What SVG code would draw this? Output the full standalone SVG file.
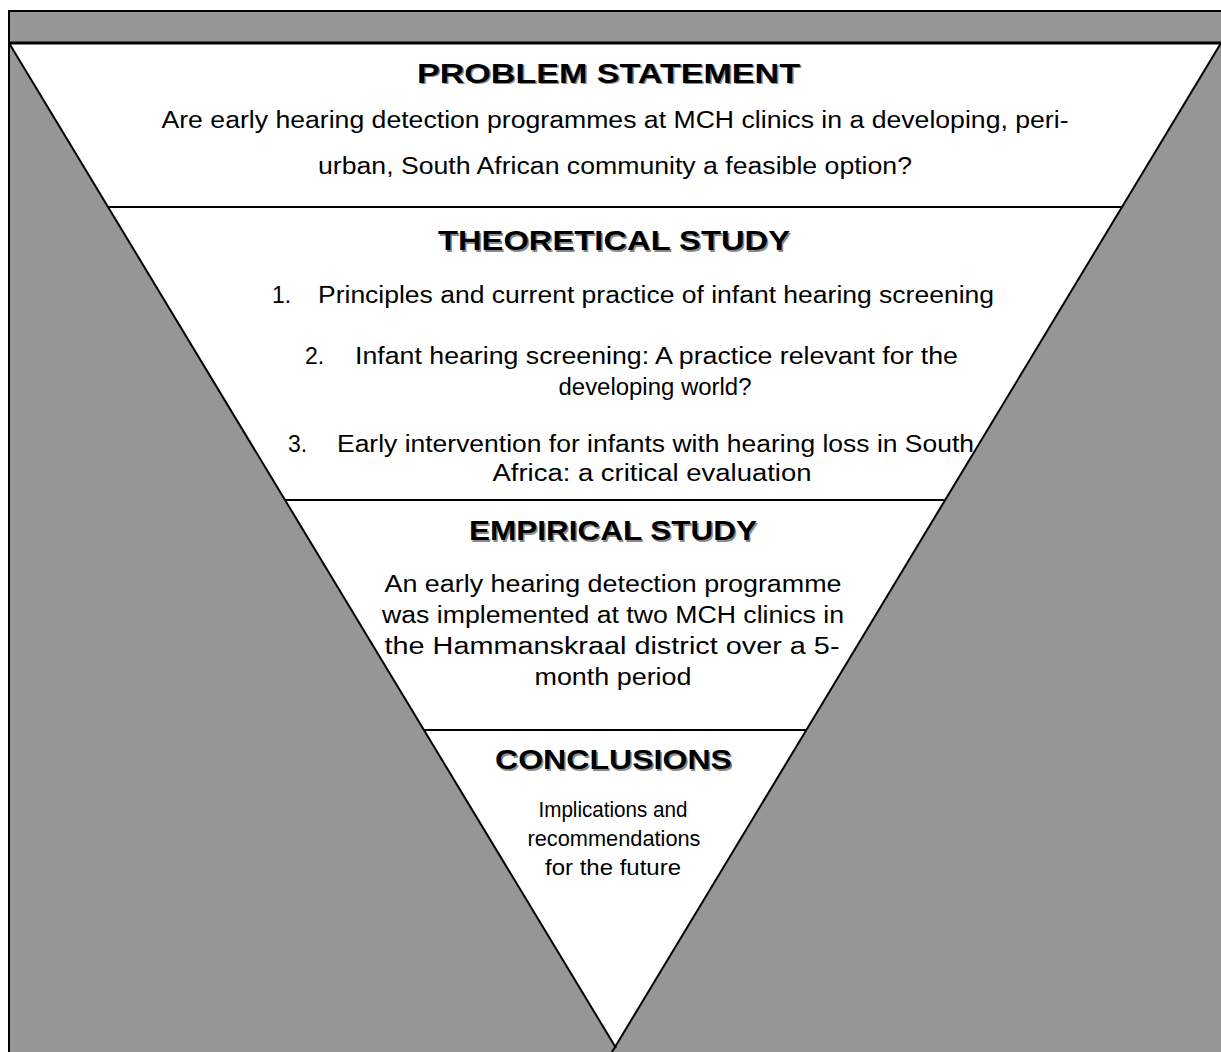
<svg xmlns="http://www.w3.org/2000/svg" width="1221" height="1052" viewBox="0 0 1221 1052">
<defs>
<style>
.bg{fill:#969696;stroke:#000;stroke-width:2}
.edge{fill:none;stroke:#000;stroke-width:2}
.t{font-family:"Liberation Sans",Arial,sans-serif;font-weight:bold;font-size:28px;fill:#000;text-anchor:middle}
.ts{font-family:"Liberation Sans",Arial,sans-serif;font-weight:bold;font-size:28px;fill:#8a8a8a;text-anchor:middle}
.b{font-family:"Liberation Sans",Arial,sans-serif;font-size:23px;fill:#000}
.s{font-family:"Liberation Sans",Arial,sans-serif;font-size:22px;fill:#000}
.c{text-anchor:middle}
</style>
</defs>
<rect x="9" y="11" width="1220" height="1050" class="bg"/>
<polygon points="9,43 1221,43 615,1047" fill="#fff"/>
<g id="connectors">
<line x1="9" y1="43" x2="1221" y2="43" stroke="#000" stroke-width="3"/>
<line x1="9" y1="43" x2="616" y2="1048" class="edge"/>
<line x1="1221" y1="43" x2="612" y2="1052" class="edge"/>
<line x1="108" y1="207" x2="1122" y2="207" class="edge"/>
<line x1="285" y1="500" x2="945" y2="500" class="edge"/>
<line x1="424" y1="730" x2="806" y2="730" class="edge"/>
</g>
<g id="problem">
<text x="610" y="84" class="ts" textLength="383" lengthAdjust="spacingAndGlyphs">PROBLEM STATEMENT</text>
<text x="608.5" y="82.5" class="t" textLength="383" lengthAdjust="spacingAndGlyphs">PROBLEM STATEMENT</text>
<text x="615" y="128" class="b c" textLength="907" lengthAdjust="spacingAndGlyphs">Are early hearing detection programmes at MCH clinics in a developing, peri-</text>
<text x="615" y="174" class="b c" textLength="594" lengthAdjust="spacingAndGlyphs">urban, South African community a feasible option?</text>
</g>
<g id="theoretical">
<text x="615.5" y="251.5" class="ts" textLength="352" lengthAdjust="spacingAndGlyphs">THEORETICAL STUDY</text>
<text x="614" y="250" class="t" textLength="352" lengthAdjust="spacingAndGlyphs">THEORETICAL STUDY</text>
<text x="272" y="303" class="b">1.</text>
<text x="318" y="303" class="b" textLength="676" lengthAdjust="spacingAndGlyphs">Principles and current practice of infant hearing screening</text>
<text x="305" y="364" class="b">2.</text>
<text x="355" y="364" class="b" textLength="603" lengthAdjust="spacingAndGlyphs">Infant hearing screening: A practice relevant for the</text>
<text x="655" y="395" class="b c" textLength="193" lengthAdjust="spacingAndGlyphs">developing world?</text>
<text x="288" y="452" class="b">3.</text>
<text x="337" y="452" class="b" textLength="637" lengthAdjust="spacingAndGlyphs">Early intervention for infants with hearing loss in South</text>
<text x="652" y="481" class="b c" textLength="319" lengthAdjust="spacingAndGlyphs">Africa: a critical evaluation</text>
</g>
<g id="empirical">
<text x="614.5" y="541.5" class="ts" textLength="288" lengthAdjust="spacingAndGlyphs">EMPIRICAL STUDY</text>
<text x="613" y="540" class="t" textLength="288" lengthAdjust="spacingAndGlyphs">EMPIRICAL STUDY</text>
<text x="613" y="592" class="b c" textLength="457" lengthAdjust="spacingAndGlyphs">An early hearing detection programme</text>
<text x="613" y="623" class="b c" textLength="462" lengthAdjust="spacingAndGlyphs">was implemented at two MCH clinics in</text>
<text x="612" y="654" class="b c" textLength="455" lengthAdjust="spacingAndGlyphs">the Hammanskraal district over a 5-</text>
<text x="613" y="685" class="b c" textLength="157" lengthAdjust="spacingAndGlyphs">month period</text>
</g>
<g id="conclusions">
<text x="615" y="770.5" class="ts" textLength="237" lengthAdjust="spacingAndGlyphs">CONCLUSIONS</text>
<text x="613.5" y="769" class="t" textLength="237" lengthAdjust="spacingAndGlyphs">CONCLUSIONS</text>
<text x="613" y="817" class="s c" textLength="149" lengthAdjust="spacingAndGlyphs">Implications and</text>
<text x="614" y="846" class="s c" textLength="173" lengthAdjust="spacingAndGlyphs">recommendations</text>
<text x="613" y="875" class="s c" textLength="136" lengthAdjust="spacingAndGlyphs">for the future</text>
</g>
</svg>
